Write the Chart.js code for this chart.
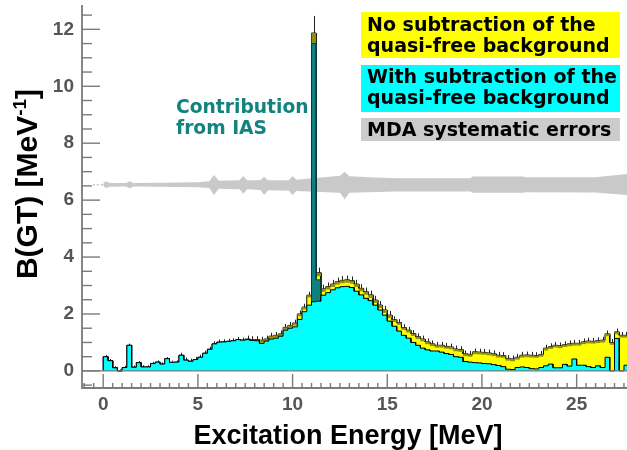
<!DOCTYPE html>
<html>
<head>
<meta charset="utf-8">
<script src="https://cdn.jsdelivr.net/npm/chart.js"></script>
<style>
html,body{margin:0;padding:0;background:#fff;}
canvas{display:block;}
</style>
</head>
<body>
<canvas id="c" width="627" height="450"></canvas>
<script>
// ---- Data ----
const binWidth = 0.25;
const energies = [0,0.25,0.5,0.75,1,1.25,1.5,1.75,2,2.25,2.5,2.75,3,3.25,3.5,3.75,4,4.25,4.5,4.75,5,5.25,5.5,5.75,6,6.25,6.5,6.75,7,7.25,7.5,7.75,8,8.25,8.5,8.75,9,9.25,9.5,9.75,10,10.25,10.5,10.75,11,11.25,11.5,11.75,12,12.25,12.5,12.75,13,13.25,13.5,13.75,14,14.25,14.5,14.75,15,15.25,15.5,15.75,16,16.25,16.5,16.75,17,17.25,17.5,17.75,18,18.25,18.5,18.75,19,19.25,19.5,19.75,20,20.25,20.5,20.75,21,21.25,21.5,21.75,22,22.25,22.5,22.75,23,23.25,23.5,23.75,24,24.25,24.5,24.75,25,25.25,25.5,25.75,26,26.25,26.5,26.75,27,27.25,27.5];

const withSubtraction = [
 0.50,0.36,0.11,0.00,0.12,0.90,0.13,0.29,0.14,0.14,
 0.26,0.31,0.24,0.43,0.30,0.31,0.55,0.38,0.34,0.40,
 0.48,0.62,0.76,0.95,1.01,1.02,1.04,1.06,1.10,1.08,
 1.10,1.07,1.06,0.97,1.05,1.12,1.15,1.22,1.43,1.50,
 1.55,1.81,2.08,2.31,2.43,2.45,2.66,2.75,2.85,2.92,
 2.96,2.97,2.93,2.80,2.67,2.55,2.47,2.31,2.14,1.96,
 1.75,1.57,1.40,1.25,1.15,1.00,0.90,0.80,0.74,0.70,
 0.70,0.66,0.61,0.58,0.50,0.48,0.33,0.31,0.29,0.28,
 0.26,0.25,0.22,0.19,0.15,0.06,0.05,0.12,0.14,0.12,
 0.08,0.07,0.12,0.18,0.24,0.11,0.11,0.23,0.17,0.42,
 0.20,0.20,0.15,0.12,0.18,0.12,0.48,0.00,1.14,0.00,0.20];

const noSubtraction = [
 0.50,0.36,0.11,0.00,0.12,0.90,0.13,0.29,0.14,0.14,
 0.26,0.31,0.24,0.43,0.30,0.31,0.55,0.38,0.34,0.40,
 0.48,0.62,0.76,0.95,1.01,1.02,1.04,1.06,1.10,1.08,
 1.12,1.10,1.10,1.08,1.12,1.22,1.25,1.30,1.53,1.60,
 1.68,2.00,2.24,2.66,11.87,3.45,2.88,2.96,3.05,3.13,
 3.18,3.20,3.17,3.05,2.90,2.78,2.67,2.49,2.31,2.14,
 1.96,1.80,1.70,1.52,1.43,1.31,1.20,1.12,1.02,0.95,
 0.90,0.90,0.86,0.84,0.77,0.75,0.60,0.58,0.67,0.66,
 0.65,0.63,0.60,0.55,0.54,0.44,0.42,0.48,0.55,0.56,
 0.55,0.54,0.58,0.80,0.85,0.90,0.88,0.92,0.95,0.97,
 0.97,1.02,1.05,1.04,1.06,1.08,1.30,1.00,1.37,1.25,1.25];

const errNoSubtraction = [
 0.04,0.04,0.04,0.04,0.04,0.04,0.04,0.04,0.04,0.04,
 0.04,0.04,0.04,0.04,0.04,0.04,0.06,0.06,0.06,0.06,
 0.06,0.06,0.06,0.06,0.06,0.06,0.06,0.06,0.06,0.06,
 0.08,0.08,0.08,0.08,0.08,0.08,0.08,0.08,0.08,0.08,
 0.08,0.08,0.08,0.08,0.40,0.12,0.10,0.10,0.10,0.10,
 0.10,0.10,0.10,0.10,0.10,0.10,0.10,0.10,0.10,0.10,
 0.10,0.08,0.08,0.08,0.08,0.08,0.08,0.08,0.08,0.08,
 0.08,0.08,0.08,0.08,0.08,0.08,0.08,0.08,0.08,0.08,
 0.08,0.08,0.08,0.08,0.08,0.08,0.08,0.08,0.08,0.08,
 0.08,0.08,0.08,0.08,0.08,0.08,0.08,0.08,0.08,0.08,
 0.08,0.08,0.08,0.08,0.08,0.08,0.08,0.08,0.08,0.08,0.08];

// IAS contribution (bins)
const iasEnergies = [11.0, 11.25];
const iasValues = [11.5, 3.2];

// MDA systematic error band
const bandE =    [0.0,0.15,0.35,1.2,1.4,1.6,3.0,5.0,5.6,5.85,6.1,7.2,7.4,7.6,8.3,8.5,8.7,9.8,10.0,10.2,12.5,12.75,13.0,14.0,15.5,19.4,19.5,22.2,22.3,26.0,27.7];
const bandLow =  [6.50,6.43,6.47,6.48,6.42,6.48,6.47,6.45,6.43,6.18,6.40,6.38,6.22,6.38,6.36,6.18,6.35,6.33,6.18,6.32,6.26,6.03,6.26,6.28,6.30,6.30,6.26,6.26,6.28,6.27,6.18];
const bandHigh = [6.58,6.66,6.60,6.60,6.66,6.60,6.61,6.63,6.66,6.88,6.68,6.70,6.85,6.70,6.70,6.82,6.70,6.70,6.85,6.72,6.86,7.00,6.84,6.80,6.77,6.77,6.83,6.83,6.80,6.80,6.92];
const bandLeadE = [-0.55, 0.0];
const bandLeadV = [6.54, 6.54];

// Axes
const xTickLabels = [0,5,10,15,20,25];
const yTickLabels = [0,2,4,6,8,10,12];
const minorStep = 0.5;
const xRange = [-1.12, 27.66];
const yRange = [-0.6, 12.82];

const legendLines = [
  ['No subtraction of the','quasi-free background'],
  ['With subtraction of the','quasi-free background'],
  ['MDA systematic errors']
];
const iasText = ['Contribution','from IAS'];
const xTitle = 'Excitation Energy [MeV]';

// ---- helpers ----
function histPoints(xs, vs, w){
  const pts = [{x: xs[0], y: 0}];
  xs.forEach((x,i)=>{ pts.push({x:x, y:vs[i]}); pts.push({x:x+w, y:vs[i]}); });
  pts.push({x: xs[xs.length-1]+w, y: 0});
  return pts;
}
const zip = (xs, ys) => xs.map((x,i)=>({x:x, y:ys[i]}));

const YELLOW_IDX = 1;

const decor = {
  id: 'decor',
  afterDatasetDraw(chart, args){
    if (args.index !== YELLOW_IDX) return;
    const ctx = chart.ctx, xs = chart.scales.x, ys = chart.scales.y, a = chart.chartArea;
    ctx.save();
    ctx.beginPath(); ctx.rect(a.left, a.top, a.right-a.left, a.bottom-a.top); ctx.clip();
    energies.forEach((e,i)=>{
      const v = noSubtraction[i], er = errNoSubtraction[i];
      const x0 = xs.getPixelForValue(e), x1 = xs.getPixelForValue(e+binWidth);
      const yTop = ys.getPixelForValue(v), yBot = ys.getPixelForValue(v-er);
      ctx.fillStyle = '#8f8f14';
      ctx.fillRect(x0, yTop, x1-x0, yBot-yTop);
      ctx.strokeStyle = '#222'; ctx.lineWidth = 1;
      ctx.beginPath();
      const xc = Math.round((x0+x1)/2)+0.5;
      ctx.moveTo(xc, yTop); ctx.lineTo(xc, ys.getPixelForValue(v+1.5*er));
      ctx.stroke();
    });
    ctx.restore();
  },
  afterDatasetsDraw(chart){
    const ctx = chart.ctx, xs = chart.scales.x, ys = chart.scales.y, a = chart.chartArea;
    ctx.save();
    ctx.strokeStyle = '#7a7a7a';
    ctx.lineWidth = 1.2;
    const y0 = ys.getPixelForValue(0);
    ctx.beginPath(); ctx.moveTo(a.left, y0); ctx.lineTo(a.right, y0); ctx.stroke();
    ctx.lineWidth = 1.8;
    ctx.beginPath(); ctx.moveTo(a.left, a.top-1); ctx.lineTo(a.left, a.bottom); ctx.lineTo(a.right, a.bottom); ctx.stroke();
    ctx.lineWidth = 1.4;
    for (let v = -0.5; v <= yRange[1]; v += minorStep){
      const major = yTickLabels.includes(v);
      const py = ys.getPixelForValue(v);
      ctx.beginPath(); ctx.moveTo(a.left, py); ctx.lineTo(a.left + (major?18:10), py); ctx.stroke();
    }
    for (let v = -1; v <= xRange[1]; v += minorStep){
      const major = xTickLabels.includes(v);
      const px = xs.getPixelForValue(v);
      ctx.beginPath(); ctx.moveTo(px, a.bottom); ctx.lineTo(px, a.bottom - (major?14:5)); ctx.stroke();
    }
    ctx.restore();
  },
  afterDraw(chart){
    const ctx = chart.ctx;
    ctx.save();
    const boxes = [
      {y:12, h:46, c:'#ffff00'},
      {y:65, h:47, c:'#00ffff'},
      {y:118, h:23, c:'#cccccc'}
    ];
    const baselines = [[31,52],[83,104],[136]];
    ctx.font = 'bold 19px "DejaVu Sans"';
    ctx.textAlign = 'left'; ctx.textBaseline = 'alphabetic';
    boxes.forEach((b,i)=>{
      ctx.fillStyle = b.c; ctx.fillRect(361, b.y, 259, b.h);
      ctx.fillStyle = '#000';
      legendLines[i].forEach((t,j)=> ctx.fillText(t, 367, baselines[i][j]));
    });
    ctx.fillStyle = '#13837f';
    ctx.font = 'bold 18.7px "DejaVu Sans"';
    ctx.fillText(iasText[0], 176, 113);
    ctx.fillText(iasText[1], 176, 133.5);
    ctx.fillStyle = '#000';
    ctx.font = 'bold 27px "Liberation Sans"';
    ctx.textAlign = 'center';
    ctx.fillText(xTitle, 348, 444);
    ctx.translate(37, 184);
    ctx.rotate(-Math.PI/2);
    ctx.textAlign = 'left';
    const big = 'bold 30px "Liberation Sans"', small = 'bold 19px "Liberation Sans"';
    const p1 = 'B(GT) [MeV', p2 = '-1', p3 = ']';
    ctx.font = big; const w1 = ctx.measureText(p1).width, w3 = ctx.measureText(p3).width;
    ctx.font = small; const w2 = ctx.measureText(p2).width;
    let x = -(w1+w2+w3)/2;
    ctx.font = big; ctx.fillText(p1, x, 0); x += w1;
    ctx.font = small; ctx.fillText(p2, x, -11); x += w2;
    ctx.font = big; ctx.fillText(p3, x, 0);
    ctx.restore();
  }
};

const tickFont = {family:'"Liberation Sans", Arial, sans-serif', weight:'bold', size:19};

new Chart(document.getElementById('c'), {
  type: 'line',
  data: {
    datasets: [
      { label:'With subtraction', data: histPoints(energies, withSubtraction, binWidth),
        borderColor:'#000', borderWidth:1, backgroundColor:'#00ffff', fill:'origin', pointRadius:0, order:3 },
      { label:'No subtraction', data: histPoints(energies, noSubtraction, binWidth),
        borderColor:'#000', borderWidth:1, backgroundColor:'#ffff00', fill:'origin', pointRadius:0, order:5 },
      { label:'IAS', data: histPoints(iasEnergies, iasValues, binWidth),
        borderColor:'#0a3a3a', borderWidth:1, backgroundColor:'#0f7f80', fill:'origin', pointRadius:0, order:4 },
      { label:'MDA high', data: zip(bandE, bandHigh), borderWidth:0, borderColor:'rgba(0,0,0,0)',
        backgroundColor:'#c9c9c9', fill:'+1', pointRadius:0, order:8 },
      { label:'MDA low', data: zip(bandE, bandLow), borderWidth:0, borderColor:'rgba(0,0,0,0)',
        fill:false, pointRadius:0, order:8 },
      { label:'MDA lead', data: zip(bandLeadE, bandLeadV), borderWidth:1.5, borderColor:'#c9c9c9',
        borderDash:[2,2], fill:false, pointRadius:0, order:8 }
    ]
  },
  options: {
    responsive:false, animation:false, devicePixelRatio:1,
    layout:{padding:{top:6, right:0, left:0, bottom:0}},
    plugins:{legend:{display:false}, tooltip:{enabled:false}},
    elements:{line:{tension:0}},
    scales:{
      x:{ type:'linear', min:xRange[0], max:xRange[1],
          grid:{display:false, drawTicks:false}, border:{display:false},
          ticks:{font:tickFont, color:'#555', padding:5, maxRotation:0, autoSkip:false},
          afterBuildTicks: s => { s.ticks = xTickLabels.map(v=>({value:v})); },
          afterFit: s => { s.height = 62; s.paddingLeft = 0; s.paddingRight = 0; } },
      y:{ type:'linear', min:yRange[0], max:yRange[1],
          grid:{display:false, drawTicks:false}, border:{display:false},
          ticks:{font:tickFont, color:'#555', padding:8},
          afterBuildTicks: s => { s.ticks = yTickLabels.map(v=>({value:v})); },
          afterFit: s => { s.width = 82; s.paddingTop = 0; s.paddingBottom = 0; } }
    }
  },
  plugins:[decor]
});
</script>
</body>
</html>
